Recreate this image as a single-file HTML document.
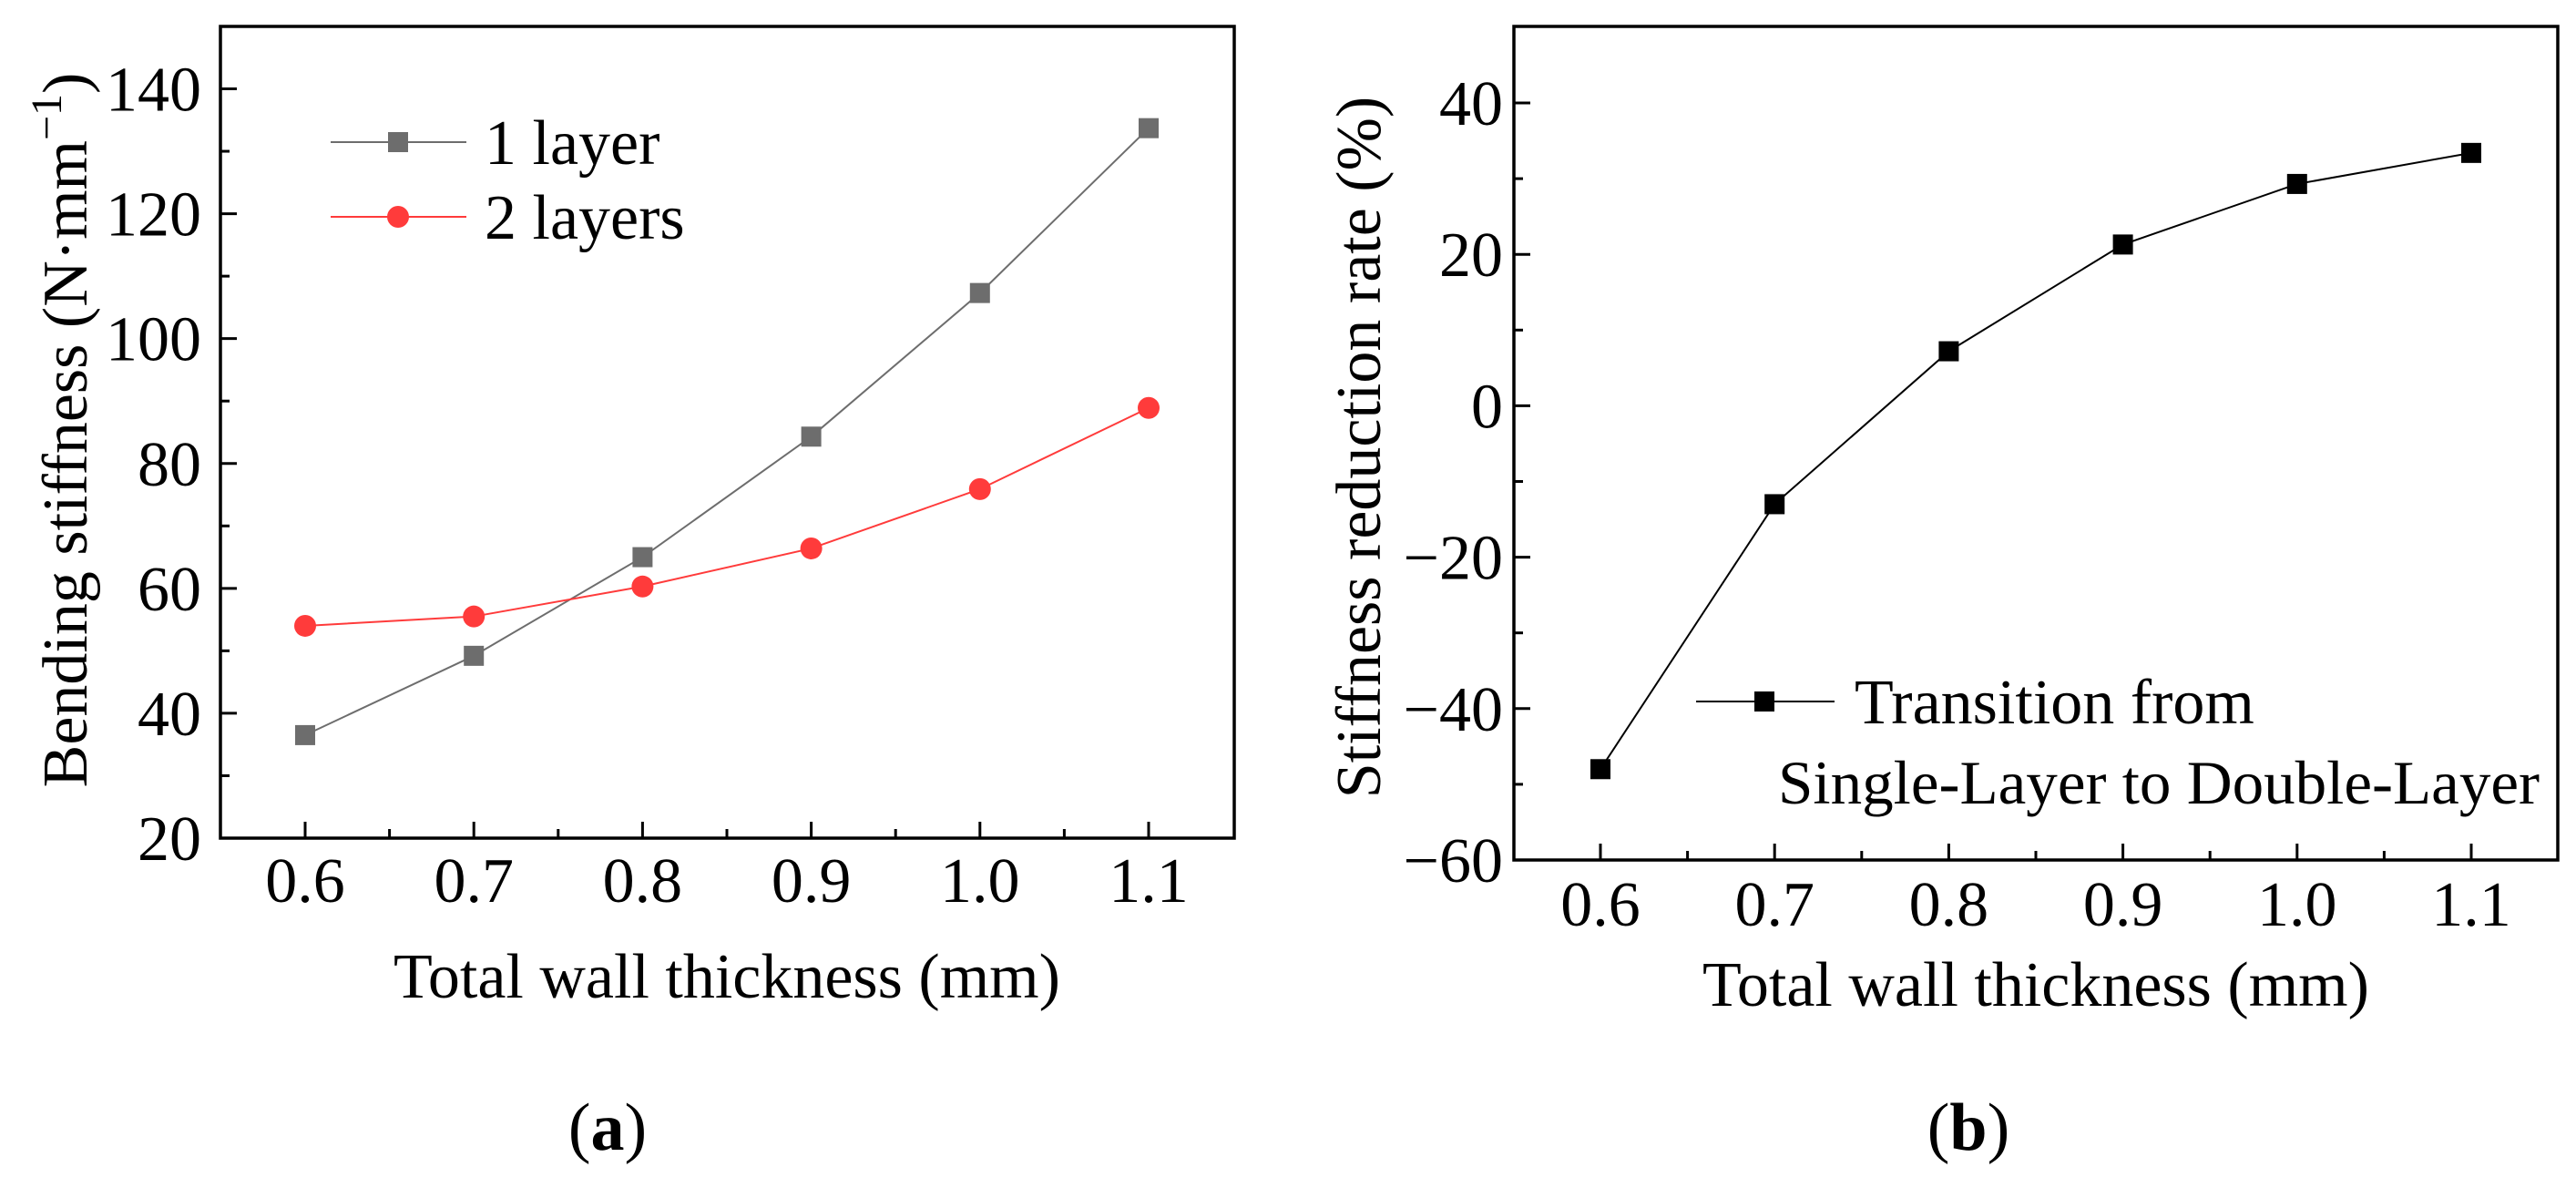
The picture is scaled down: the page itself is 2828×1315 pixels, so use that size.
<!DOCTYPE html>
<html><head><meta charset="utf-8"><style>
html,body{margin:0;padding:0;background:#fff;}
svg, svg text{font-family:"Liberation Serif","DejaVu Serif","Times New Roman",serif;}
</style></head><body>
<svg id="fig" width="2828" height="1310" viewBox="0 0 2828 1310" font-family="Liberation Serif, DejaVu Serif, serif"></svg>
<script>
const xCats = [0.6, 0.7, 0.8, 0.9, 1.0, 1.1];
const xTickLabels = ["0.6","0.7","0.8","0.9","1.0","1.1"];
const oneLayer = [36.5, 49.2, 65.0, 84.3, 107.3, 133.7];
const twoLayers = [54.0, 55.5, 60.3, 66.4, 75.9, 88.9];
const reduction = [-48.0, -13.0, 7.2, 21.3, 29.3, 33.4];
const yTicksA = [20, 40, 60, 80, 100, 120, 140];
const yTicksB = [-60, -40, -20, 0, 20, 40];

const NS = "http://www.w3.org/2000/svg";
const svg = document.getElementById('fig');
const FF = '"Liberation Serif", "DejaVu Serif", serif';
function mk(tag, attrs, parent, text){
  const e = document.createElementNS(NS, tag);
  for (const k in attrs) e.setAttribute(k, attrs[k]);
  if (tag === 'text') e.setAttribute('font-family', FF);
  if (text !== undefined) e.textContent = text;
  (parent||svg).appendChild(e);
  return e;
}
function lin(d0,d1,r0,r1){return v=>r0+(v-d0)/(d1-d0)*(r1-r0);}

function panel(cfg){
  const g = mk('g',{});
  
  
  const {L,R,T,B} = cfg;
  const X = lin(0.6,1.1,cfg.x06,cfg.x11);
  const Y = lin(cfg.ylo,cfg.yhi,B,cfg.yhiPx);
  xCats.forEach((v,i)=>{
    const t = mk('line',{x1:X(v),x2:X(v),y1:B,y2:B-18,stroke:'#000','stroke-width':3},g);
    
    
    if (i<xCats.length-1){
      const m=(X(v)+X(xCats[i+1]))/2;
      mk('line',{x1:m,x2:m,y1:B,y2:B-10,stroke:'#000','stroke-width':3},g);
    }
    const lb = mk('text',{x:X(v),y:cfg.xLabY,'text-anchor':'middle','font-size':70},g,xTickLabels[i]);
    
    
  });
  cfg.yTicks.forEach((v,i)=>{
    const t = mk('line',{x1:L,x2:L+18,y1:Y(v),y2:Y(v),stroke:'#000','stroke-width':3},g);
    
    
    if (i<cfg.yTicks.length-1){
      const m=(Y(v)+Y(cfg.yTicks[i+1]))/2;
      mk('line',{x1:L,x2:L+10,y1:m,y2:m,stroke:'#000','stroke-width':3},g);
    }
    const s = v<0 ? '\u2212'+Math.abs(v) : String(v);
    const lb = mk('text',{x:cfg.yLabX,y:Y(v)+24,'text-anchor':'end','font-size':70},g,s);
    
    
  });
  const fr = mk('rect',{x:L,y:T,width:R-L,height:B-T,fill:'none',stroke:'#000','stroke-width':3.5},g);
  
  
  cfg.series.forEach(s=>{
    const pts = s.vals.map((v,i)=>X(xCats[i])+','+Y(v)).join(' ');
    const pl = mk('polyline',{points:pts,fill:'none',stroke:s.color,'stroke-width':2},g);
    
    
    s.vals.forEach((v,i)=>{
      let m;
      if (s.shape==='sq') m = mk('rect',{x:X(xCats[i])-11,y:Y(v)-11,width:22,height:22,fill:s.color},g);
      else m = mk('circle',{cx:X(xCats[i]),cy:Y(v),r:12,fill:s.color},g);
      
      
    });
  });
  return {g,X,Y};
}

panel({name:'chart-a',L:242,R:1355,T:29,B:920,x06:335,x11:1261,ylo:20,yhi:140,yhiPx:97.5,
  yTicks:yTicksA,xLabY:990,yLabX:221,
  series:[{name:'one-layer',vals:oneLayer,color:'#6d6d6d',shape:'sq'},
          {name:'two-layers',vals:twoLayers,color:'#ff3b3b',shape:'ci'}]});
panel({name:'chart-b',L:1662,R:2808,T:29,B:944,x06:1757,x11:2713,ylo:-60,yhi:40,yhiPx:113,
  yTicks:yTicksB,xLabY:1016,yLabX:1650,
  series:[{name:'reduction-rate',vals:reduction,color:'#000',shape:'sq'}]});

let e;
e = mk('g',{});  
mk('line',{x1:363,x2:512,y1:156,y2:156,stroke:'#6d6d6d','stroke-width':2},e);
mk('rect',{x:426,y:145,width:22,height:22,fill:'#6d6d6d'},e);
mk('text',{x:532,y:180,'font-size':70},e,'1 layer');
e = mk('g',{});  
mk('line',{x1:363,x2:512,y1:238,y2:238,stroke:'#ff3b3b','stroke-width':2},e);
mk('circle',{cx:437,cy:238,r:12,fill:'#ff3b3b'},e);
mk('text',{x:532,y:262,'font-size':70},e,'2 layers');

e = mk('text',{transform:'translate(95,472) rotate(-90)','text-anchor':'middle','font-size':70});
e.innerHTML = 'Bending stiffness (N·mm<tspan dy="-28" font-size="48">\u22121</tspan><tspan dy="28">)</tspan>';
 
e = mk('text',{x:798,y:1095,'text-anchor':'middle','font-size':70},svg,'Total wall thickness (mm)');
 
e = mk('text',{x:667,y:1262,'text-anchor':'middle','font-size':74});
e.innerHTML = '(<tspan font-weight="bold">a</tspan>)';
 

e = mk('g',{});  
mk('line',{x1:1862,x2:2014,y1:770,y2:770,stroke:'#000','stroke-width':2},e);
mk('rect',{x:1926,y:759,width:22,height:22,fill:'#000'},e);
mk('text',{x:2036,y:794,'font-size':70},e,'Transition from');
mk('text',{x:1952,y:882,'font-size':68,textLength:836,lengthAdjust:'spacingAndGlyphs'},e,'Single-Layer to Double-Layer');

e = mk('text',{transform:'translate(1515,491) rotate(-90)','text-anchor':'middle','font-size':70},svg,'Stiffness reduction rate (%)');
 
e = mk('text',{x:2235,y:1104,'text-anchor':'middle','font-size':70},svg,'Total wall thickness (mm)');
 
e = mk('text',{x:2161,y:1262,'text-anchor':'middle','font-size':74});
e.innerHTML = '(<tspan font-weight="bold">b</tspan>)';
 
</script>
</body></html>
